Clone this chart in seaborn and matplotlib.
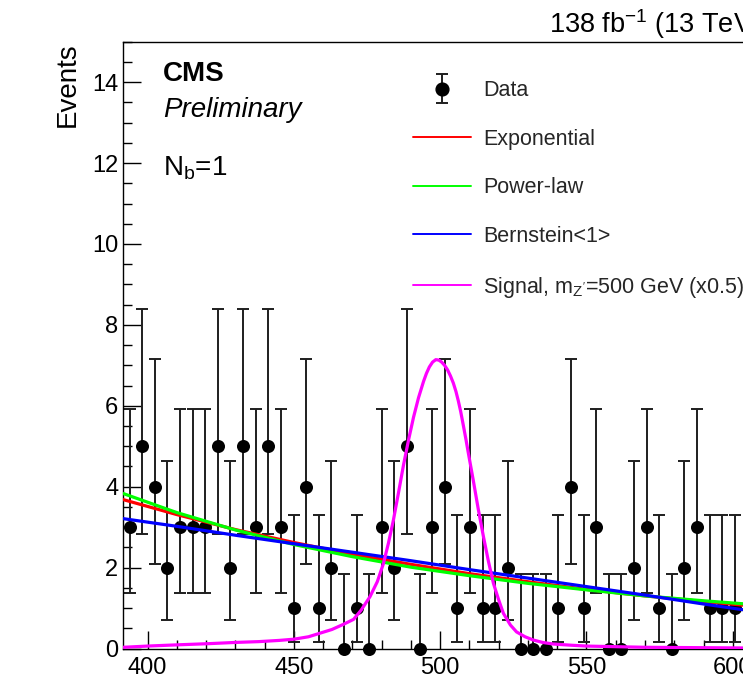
import numpy as np
import pandas as pd
import matplotlib
matplotlib.use("Agg")
import matplotlib.pyplot as plt
import seaborn as sns
from matplotlib.lines import Line2D
from matplotlib.ticker import MultipleLocator
from matplotlib.container import ErrorbarContainer
from matplotlib.legend_handler import HandlerErrorbar, HandlerTuple

# ---------------- data ----------------
bin_lo = 391.7          # lower edge of the histogram range (GeV)
bin_width = 4.31        # bin width (GeV)
counts = [3, 5, 4, 2, 3, 3, 3, 5, 2, 5,
          3, 5, 3, 1, 4, 1, 2, 0, 1, 0,
          3, 2, 5, 0, 3, 4, 1, 3, 1, 1,
          2, 0, 0, 0, 1, 4, 1, 3, 0, 0,
          2, 3, 1, 0, 2, 3, 1, 1, 1]
# Garwood (68%) Poisson interval bounds per observed count
poisson_lo = {0: 0.0, 1: 0.173, 2: 0.708, 3: 1.367, 4: 2.086, 5: 2.840}
poisson_hi = {0: 1.841, 1: 3.300, 2: 4.638, 3: 5.918, 4: 7.163, 5: 8.382}

fit_x = [391.7, 410, 430, 450, 470, 490, 510, 530, 550, 570, 590, 610]
exp_y = [3.68, 3.31, 2.94, 2.62, 2.33, 2.08, 1.85, 1.65, 1.46, 1.30, 1.16, 1.03]
pow_y = [3.83, 3.36, 2.93, 2.57, 2.27, 2.01, 1.80, 1.61, 1.45, 1.30, 1.18, 1.07]
bern_y = [3.21, 3.02, 2.80, 2.59, 2.38, 2.17, 1.95, 1.74, 1.53, 1.32, 1.10, 0.89]

sig_x = [391.7, 400, 410, 421, 430, 438, 445, 450, 455, 459,
         463, 467, 470.4, 473, 476, 478.5, 480.6, 482.3, 484, 485.8,
         487.5, 489.2, 490.9, 492.6, 494.3, 495.3, 496.3, 497.4, 498.5, 499.5,
         500.5, 501.5, 502.5, 503.5, 504.5, 505.4, 506.2, 507.0, 507.9, 508.8,
         509.6, 511.3, 513, 514.8, 516.5, 518.2, 520, 521.6,
         524, 526.1, 529, 531.8, 535, 538.7, 545, 550, 570, 590, 610]
sig_y = [0.03, 0.06, 0.09, 0.12, 0.15, 0.17, 0.20, 0.23, 0.29, 0.38,
         0.47, 0.60, 0.72, 0.95, 1.28, 1.65, 2.10, 2.60, 3.17, 3.87,
         4.55, 5.16, 5.72, 6.20, 6.60, 6.80, 6.96, 7.08, 7.14, 7.13,
         7.08, 7.00, 6.89, 6.74, 6.56, 6.35, 6.12, 5.86, 5.52, 5.17,
         4.84, 4.16, 3.45, 2.76, 2.15, 1.61, 1.20, 0.87,
         0.58, 0.41, 0.29, 0.21, 0.15, 0.11, 0.08, 0.06, 0.03, 0.02, 0.01]

legend_labels = ["Data", "Exponential", "Power-law", "Bernstein<1>",
                 r"Signal, m$_{\mathrm{Z'}}$=500 GeV (x0.5)"]

# ---------------- style ----------------
sns.set_theme(style="ticks")
plt.rcParams["font.family"] = ["Liberation Sans", "DejaVu Sans"]
plt.rcParams["mathtext.fontset"] = "custom"
plt.rcParams["mathtext.rm"] = "Liberation Sans"
plt.rcParams["mathtext.it"] = "Liberation Sans:italic"
plt.rcParams["mathtext.bf"] = "Liberation Sans:bold"

W, H = 743, 683
X_MIN, X_MAX = 391.7, 609.5
Y_MIN, Y_MAX = 0, 15
PX_PER_GEV = 2.926
ax_l, ax_t, ax_b = 123.3, 41.7, 648.5
ax_r = ax_l + (X_MAX - X_MIN) * PX_PER_GEV

fig = plt.figure(figsize=(W / 100, H / 100), dpi=100)
ax = fig.add_axes([ax_l / W, 1 - ax_b / H, (ax_r - ax_l) / W, (ax_b - ax_t) / H])

centers = bin_lo + bin_width * (np.arange(len(counts)) + 0.5)
counts_arr = np.array(counts, dtype=float)
err_lo = counts_arr - np.array([poisson_lo[c] for c in counts])
err_hi = np.array([poisson_hi[c] for c in counts]) - counts_arr

eb = ax.errorbar(centers, counts_arr, yerr=[err_lo, err_hi], fmt="none",
                 ecolor="#1e1e1e", elinewidth=1.4, capsize=4.3, capthick=1.4,
                 zorder=2)
sns.scatterplot(x=centers, y=counts_arr, ax=ax, color="black", s=88,
                linewidth=0, zorder=3, clip_on=False, legend=False)

curve_lw = 2.3
sns.lineplot(x=fit_x, y=exp_y, ax=ax, color="#ff0000", lw=curve_lw,
             sort=False, estimator=None, zorder=4, legend=False)
sns.lineplot(x=fit_x, y=pow_y, ax=ax, color="#00ff00", lw=curve_lw,
             sort=False, estimator=None, zorder=5, legend=False)
sns.lineplot(x=fit_x, y=bern_y, ax=ax, color="#0000ff", lw=curve_lw,
             sort=False, estimator=None, zorder=6, legend=False)
sns.lineplot(x=sig_x, y=sig_y, ax=ax, color="#ff00ff", lw=curve_lw,
             sort=False, estimator=None, zorder=7, legend=False)

ax.set_xlim(X_MIN, X_MAX)
ax.set_ylim(Y_MIN, Y_MAX)
ax.set_xlabel("")
ax.set_ylabel("")
ax.xaxis.set_major_locator(MultipleLocator(50))
ax.xaxis.set_minor_locator(MultipleLocator(10))
ax.yaxis.set_major_locator(MultipleLocator(2))
ax.yaxis.set_minor_locator(MultipleLocator(0.5))
ax.tick_params(axis="both", which="both", direction="in", top=False,
               right=False, color="black", width=1.0, labelsize=17,
               labelcolor="black")
ax.tick_params(which="major", length=13)
ax.tick_params(which="minor", length=6.8)
ax.tick_params(axis="x", which="major", pad=6)
ax.tick_params(axis="y", which="major", pad=3.5)
for sp in ax.spines.values():
    sp.set_visible(True)
    sp.set_color("black")
    sp.set_linewidth(1.0)

# legend
data_marker = Line2D([], [], marker="o", color="black", ls="none", markersize=9.2)
handles = [(eb, data_marker),
           Line2D([], [], color="#ff0000", lw=1.4),
           Line2D([], [], color="#00ff00", lw=1.4),
           Line2D([], [], color="#0000ff", lw=1.4),
           Line2D([], [], color="#ff00ff", lw=1.4)]
ax.legend(handles, legend_labels,
          handler_map={tuple: HandlerTuple(ndivide=1),
                       ErrorbarContainer: HandlerErrorbar(yerr_size=0.67)},
          loc="upper left", bbox_to_anchor=(413.3 / W, 1 - 80.3 / H),
          bbox_transform=fig.transFigure, frameon=False, fontsize=15.5,
          handlelength=2.68, handletextpad=0.57, labelspacing=1.28,
          borderpad=0, borderaxespad=0)

# texts
def fx(px):
    return px / W

def fy(py):
    return 1 - py / H

fig.text(fx(163), fy(80.7), "CMS", fontsize=20, fontweight="bold",
         ha="left", va="baseline", color="black")
fig.text(fx(163), fy(116.7), "Preliminary", fontsize=20, fontstyle="italic",
         ha="left", va="baseline", color="black")
fig.text(fx(163), fy(175), r"N$_{\mathrm{b}}$=1", fontsize=20,
         ha="left", va="baseline", color="black")
fig.text(fx(67.5), fy(42), "Events", fontsize=20, rotation=90,
         ha="center", va="top", color="black")
fig.text(fx(ax_r), fy(33.3), r"138 fb$^{-1}$ (13 TeV)", fontsize=19.5,
         ha="right", va="baseline", color="black")

fig.savefig("out.png", dpi=100)
